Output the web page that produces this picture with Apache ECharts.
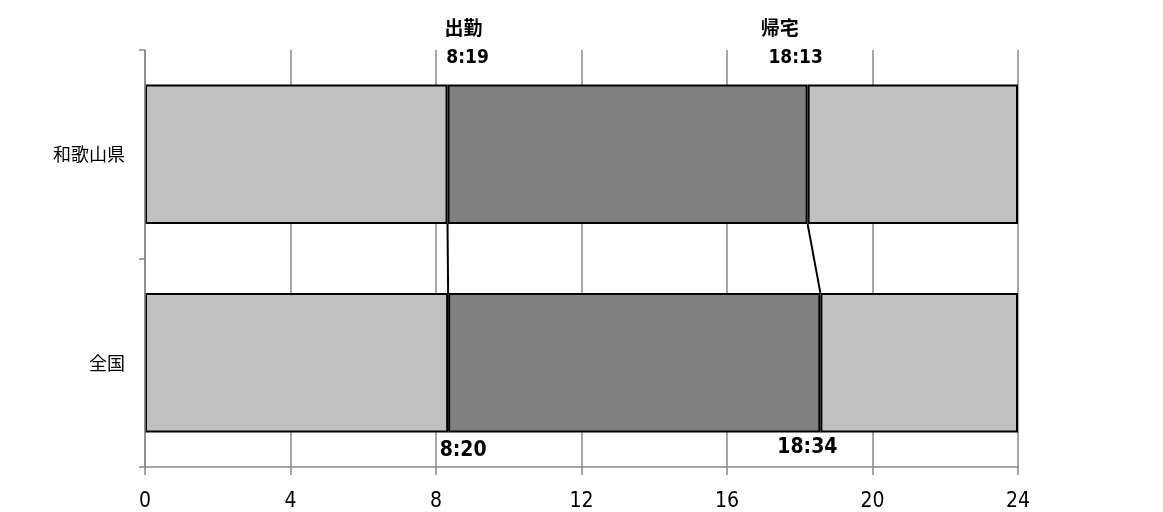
<!DOCTYPE html>
<html><head><meta charset="utf-8">
<script src="https://cdn.jsdelivr.net/npm/echarts@6/dist/echarts.min.js"></script>
<style>html,body{margin:0;padding:0;background:#fff}#c{width:1163px;height:512px}</style>
</head><body><div id="c"></div>
<script>
const categories = ['和歌山県', '全国'];
const departTimes = ['8:19', '8:20'];
const returnTimes = ['18:13', '18:34'];
const xTicks = [0, 4, 8, 12, 16, 20, 24];

function toHours(t) { const p = t.split(':'); return +p[0] + (+p[1]) / 60; }
const depart = departTimes.map(toHours);
const ret = returnTimes.map(toHours);
const before = depart;
const working = ret.map((r, i) => r - depart[i]);
const after = ret.map(r => 24 - r);

const border = { borderColor: '#000', borderWidth: 2 };
const chart = echarts.init(document.getElementById('c'));
const labelFont = '"DejaVu Sans Condensed", "Liberation Sans Narrow", sans-serif';
const cjk = '"Noto Sans CJK JP"';

function lab(off, size, fam) {
  return { offset: off, fontSize: size, fontFamily: fam, color: '#000', fontWeight: 'bold', opacity: 1 };
}

chart.setOption({
  animation: false,
  grid: { left: 145, right: 145, top: 50, bottom: 45 },
  xAxis: {
    type: 'value', min: xTicks[0], max: xTicks[xTicks.length - 1], interval: 4,
    axisLine: { show: true, lineStyle: { color: '#888', width: 1.5 } },
    axisTick: { show: true, length: 8, lineStyle: { color: '#888', width: 1.5 } },
    splitLine: { show: true, lineStyle: { color: '#888', width: 1.5 } },
    axisLabel: { color: '#000', fontSize: 21, margin: 24, fontFamily: labelFont }
  },
  yAxis: {
    type: 'category', data: categories, inverse: true, z: 10,
    axisLine: { show: true, lineStyle: { color: '#888', width: 1.5 } },
    axisTick: { show: true, length: 6, lineStyle: { color: '#888', width: 1.5 } },
    axisLabel: { color: '#000', fontSize: 18, margin: 20, fontFamily: cjk }
  },
  series: [
    { type: 'bar', stack: 's', data: before, barWidth: '67%', itemStyle: Object.assign({ color: '#c0c0c0' }, border) },
    { type: 'bar', stack: 's', data: working, barWidth: '67%', itemStyle: Object.assign({ color: '#808080' }, border) },
    { type: 'bar', stack: 's', data: after, barWidth: '67%', itemStyle: Object.assign({ color: '#c0c0c0' }, border) },
    {
      type: 'custom', z: 5,
      data: [[depart[0], depart[1]], [ret[0], ret[1]]],
      renderItem: function (params, api) {
        const half = api.size([0, 1])[1] * 0.67 / 2;
        const p0 = api.coord([api.value(0), 0]);
        const p1 = api.coord([api.value(1), 1]);
        return { type: 'line', shape: { x1: p0[0], y1: p0[1] + half, x2: p1[0], y2: p1[1] - half },
          style: { stroke: '#000', lineWidth: 2 } };
      }
    },
    {
      type: 'scatter', symbolSize: 0, z: 6,
      itemStyle: { opacity: 1 },
      label: { show: true, formatter: p => p.data.name, color: '#000', fontWeight: 'bold' },
      data: [
        { value: [depart[0], categories[0]], name: '出勤', label: lab([16, -126], 19, cjk) },
        { value: [depart[0], categories[0]], name: departTimes[0], label: lab([20, -96], 19, labelFont) },
        { value: [ret[0], categories[0]], name: '帰宅', label: lab([-28, -126], 19, cjk) },
        { value: [ret[0], categories[0]], name: returnTimes[0], label: lab([-12, -96], 19, labelFont) },
        { value: [depart[1], categories[1]], name: departTimes[1], label: lab([15, 88], 21, labelFont) },
        { value: [ret[1], categories[1]], name: returnTimes[1], label: lab([-13, 85], 21, labelFont) }
      ]
    }
  ]
});
</script></body></html>
